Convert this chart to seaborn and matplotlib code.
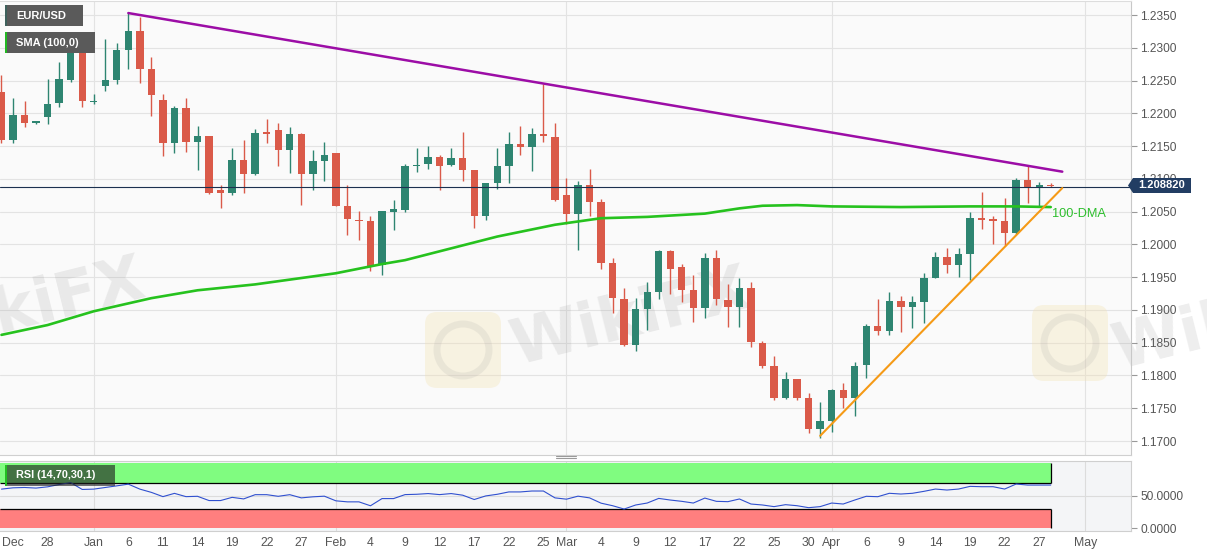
import numpy as np
import pandas as pd
import matplotlib
matplotlib.use('Agg')
import matplotlib.pyplot as plt
from matplotlib.patches import Rectangle, Polygon, FancyBboxPatch, Circle
import seaborn as sns

# weekday calendar of the chart (holidays keep a candle)
days = pd.bdate_range('2020-12-22', '2021-05-07')

# EUR/USD daily candles, 22 Dec 2020 .. 28 Apr 2021
opens = [1.2233, 1.2159, 1.2197, 1.2186, 1.2195, 1.2216, 1.2251, 1.2294, 1.2217, 1.2242,
         1.2251, 1.2296, 1.2326, 1.2268, 1.2220, 1.2155, 1.2208, 1.2157, 1.2165, 1.2083,
         1.2078, 1.2129, 1.2108, 1.2170, 1.2175, 1.2144, 1.2169, 1.2107, 1.2128, 1.2139,
         1.2058, 1.2038, 1.2035, 1.1968, 1.2049, 1.2053, 1.2119, 1.2122, 1.2134, 1.2121,
         1.2132, 1.2113, 1.2044, 1.2093, 1.2120, 1.2153, 1.2149, 1.2168, 1.2164, 1.2076,
         1.2046, 1.2091, 1.2064, 1.1971, 1.1916, 1.1846, 1.1902, 1.1928, 1.1990, 1.1966,
         1.1930, 1.1903, 1.1980, 1.1915, 1.1905, 1.1933, 1.1850, 1.1814, 1.1765, 1.1794,
         1.1765, 1.1718, 1.1731, 1.1778, 1.1765, 1.1816, 1.1875, 1.1868, 1.1914, 1.1905,
         1.1912, 1.1949, 1.1981, 1.1968, 1.1986, 1.2040, 1.2037, 1.2036, 1.2017, 1.2098,
         1.2087, 1.2090]
highs = [1.2258, 1.2223, 1.2219, 1.2189, 1.2252, 1.2278, 1.2303, 1.2310, 1.2230, 1.2313,
         1.2308, 1.2353, 1.2347, 1.2286, 1.2229, 1.2211, 1.2224, 1.2180, 1.2166, 1.2090,
         1.2147, 1.2160, 1.2176, 1.2192, 1.2185, 1.2179, 1.2170, 1.2144, 1.2157, 1.2140,
         1.2090, 1.2051, 1.2044, 1.2051, 1.2068, 1.2123, 1.2147, 1.2150, 1.2136, 1.2147,
         1.2172, 1.2114, 1.2094, 1.2147, 1.2171, 1.2181, 1.2177, 1.2244, 1.2186, 1.2102,
         1.2096, 1.2115, 1.2069, 1.1979, 1.1933, 1.1918, 1.1943, 1.1991, 1.1991, 1.1970,
         1.1953, 1.1987, 1.1991, 1.1940, 1.1948, 1.1942, 1.1853, 1.1829, 1.1806, 1.1795,
         1.1773, 1.1760, 1.1779, 1.1788, 1.1821, 1.1878, 1.1916, 1.1928, 1.1921, 1.1921,
         1.1957, 1.1989, 1.1995, 1.1995, 1.2049, 1.2080, 1.2044, 1.2071, 1.2102, 1.2120,
         1.2095, 1.2093]
lows = [1.2154, 1.2154, 1.2179, 1.2184, 1.2184, 1.2209, 1.2248, 1.2210, 1.2214, 1.2234,
        1.2244, 1.2267, 1.2247, 1.2196, 1.2135, 1.2139, 1.2141, 1.2113, 1.2077, 1.2055,
        1.2075, 1.2078, 1.2106, 1.2154, 1.2119, 1.2109, 1.2060, 1.2083, 1.2096, 1.2058,
        1.2014, 1.2007, 1.1960, 1.1953, 1.2022, 1.2050, 1.2110, 1.2115, 1.2083, 1.2119,
        1.2097, 1.2025, 1.2037, 1.2084, 1.2093, 1.2137, 1.2112, 1.2157, 1.2067, 1.2031,
        1.1992, 1.2044, 1.1963, 1.1895, 1.1845, 1.1837, 1.1870, 1.1916, 1.1925, 1.1912,
        1.1882, 1.1887, 1.1907, 1.1874, 1.1874, 1.1843, 1.1811, 1.1762, 1.1764, 1.1762,
        1.1712, 1.1704, 1.1714, 1.1750, 1.1738, 1.1796, 1.1862, 1.1862, 1.1867, 1.1872,
        1.1880, 1.1948, 1.1957, 1.1951, 1.1946, 1.2024, 1.2000, 1.1997, 1.2016, 1.2063,
        1.2058, 1.2087]
closes = [1.2159, 1.2197, 1.2186, 1.2188, 1.2215, 1.2252, 1.2294, 1.2219, 1.2218, 1.2251,
          1.2296, 1.2326, 1.2268, 1.2228, 1.2155, 1.2208, 1.2157, 1.2165, 1.2079, 1.2078,
          1.2129, 1.2108, 1.2170, 1.2169, 1.2144, 1.2169, 1.2107, 1.2127, 1.2136, 1.2059,
          1.2039, 1.2035, 1.1967, 1.2051, 1.2054, 1.2119, 1.2121, 1.2134, 1.2120, 1.2132,
          1.2113, 1.2044, 1.2093, 1.2119, 1.2153, 1.2149, 1.2168, 1.2165, 1.2068, 1.2046,
          1.2091, 1.2064, 1.1972, 1.1918, 1.1846, 1.1902, 1.1928, 1.1990, 1.1962, 1.1930,
          1.1903, 1.1980, 1.1916, 1.1905, 1.1933, 1.1851, 1.1814, 1.1765, 1.1794, 1.1765,
          1.1718, 1.1731, 1.1778, 1.1765, 1.1814, 1.1875, 1.1868, 1.1914, 1.1905, 1.1912,
          1.1949, 1.1981, 1.1968, 1.1985, 1.2040, 1.2037, 1.2036, 1.2017, 1.2098, 1.2088,
          1.2090, 1.2089]

# 100-day SMA, read at a few dates
sma_dates = ['2020-12-22', '2020-12-28', '2021-01-01', '2021-01-08', '2021-01-14', '2021-01-21',
             '2021-02-01', '2021-02-05', '2021-02-09', '2021-02-15', '2021-02-19', '2021-02-26',
             '2021-03-04', '2021-03-10', '2021-03-17', '2021-03-22', '2021-03-24', '2021-03-29',
             '2021-04-01', '2021-04-09', '2021-04-19', '2021-04-23', '2021-04-28']
sma_values = [1.1862, 1.1877, 1.1898, 1.1918, 1.1930, 1.1939, 1.1956, 1.1970, 1.1976, 1.1994,
              1.2012, 1.2030, 1.2040, 1.2042, 1.2047, 1.2055, 1.2059, 1.2060, 1.2058, 1.2057,
              1.2058, 1.2058, 1.2057]

# RSI(14), one value per candle
rsi_values = [60.0, 62.0, 62.5, 61.6, 63.5, 67.0, 70.0, 59.5, 60.0, 62.5,
              65.0, 67.6, 60.0, 55.0, 48.5, 53.5, 48.5, 49.0, 42.5, 42.5,
              47.4, 45.0, 51.5, 51.5, 49.0, 51.5, 46.6, 48.2, 49.2, 42.1,
              40.5, 40.5, 34.5, 45.5, 45.5, 51.6, 52.1, 53.2, 51.6, 53.2,
              50.7, 44.1, 49.6, 52.1, 55.7, 55.7, 57.1, 57.1, 46.6, 44.6,
              49.2, 46.6, 38.5, 34.6, 29.5, 35.7, 38.7, 45.8, 43.3, 41.3,
              38.7, 46.3, 41.3, 40.8, 44.9, 37.2, 35.7, 33.2, 36.2, 34.6,
              31.6, 33.2, 38.7, 37.2, 43.3, 49.0, 48.4, 53.6, 52.5, 53.6,
              56.6, 60.1, 58.6, 60.1, 64.2, 63.7, 63.7, 60.1, 67.8, 66.2,
              66.2, 66.2]

last_price = 1.208820

# hand-drawn trend lines
res_dates = ['2021-01-06', '2021-04-29']
res_prices = [1.2353, 1.2111]
sup_dates = ['2021-03-31', '2021-04-29']
sup_prices = [1.1708, 1.2086]

tick_dates = ['2020-12-23', '2020-12-28', '2021-01-01', '2021-01-06', '2021-01-11', '2021-01-14',
              '2021-01-19', '2021-01-22', '2021-01-27', '2021-02-01', '2021-02-04', '2021-02-09',
              '2021-02-12', '2021-02-17', '2021-02-22', '2021-02-25', '2021-03-01', '2021-03-04',
              '2021-03-09', '2021-03-12', '2021-03-17', '2021-03-22', '2021-03-25', '2021-03-30',
              '2021-04-01', '2021-04-06', '2021-04-09', '2021-04-14', '2021-04-19', '2021-04-22',
              '2021-04-27', '2021-05-03']
tick_labels = ['Dec', '28', 'Jan', '6', '11', '14', '19', '22', '27', 'Feb', '4', '9', '12', '17',
               '22', '25', 'Mar', '4', '9', '12', '17', '22', '25', '30', 'Apr', '6', '9', '14',
               '19', '22', '27', 'May']
month_dates = ['2021-01-01', '2021-02-01', '2021-03-01', '2021-04-01', '2021-05-03']
price_ticks = [1.1700, 1.1750, 1.1800, 1.1850, 1.1900, 1.1950, 1.2000,
               1.2050, 1.2100, 1.2150, 1.2200, 1.2250, 1.2300, 1.2350]


def pos_of(dates):
    return days.get_indexer(pd.to_datetime(dates))


df = pd.DataFrame({'date': days[:len(opens)], 'open': opens, 'high': highs,
                   'low': lows, 'close': closes, 'rsi': rsi_values})
df['pos'] = np.arange(len(df))

GREEN = '#2E8571'
RED = '#DA5A49'

sns.set_theme(style='white')
plt.rcParams['font.family'] = ['Liberation Sans', 'DejaVu Sans']

W, H = 1207, 555
fig = plt.figure(figsize=(W / 100, H / 100), dpi=100)
fig.patch.set_facecolor('white')

xlim = (-0.13, 97.96)
ax = fig.add_axes([0, 1 - 455 / H, 1131 / W, 454 / H])
rs = fig.add_axes([0, 1 - 531 / H, 1131 / W, 70.5 / H])

# ---- main price panel ----
ax.set_facecolor('#FAFAFA')
ax.set_xlim(*xlim)
ax.set_ylim(1.16787, 1.23714)
for p in price_ticks:
    ax.axhline(p, color='#E3E3E3', lw=0.8, zorder=0.5)
for m in pos_of(month_dates):
    ax.axvline(m, color='#E3E3E3', lw=0.8, zorder=0.5)

# faint watermarks
wm = dict(transform=fig.transFigure, color='#8A8A8A', alpha=0.15, fontsize=45,
          fontweight='bold', rotation=14, ha='center', va='center', zorder=0.8,
          family='DejaVu Sans')
ax.text(630 / W, 1 - 318 / H, 'WikiFX', **wm)
ax.text(25 / W, 1 - 308 / H, 'WikiFX', **wm)
ax.text(1232 / W, 1 - 322 / H, 'WikiFX', **wm)
for cx, cy in [(463, 350), (1070, 343)]:
    ax.add_patch(FancyBboxPatch(((cx - 38) / 100, (H - cy - 38) / 100), 0.76, 0.76,
                                boxstyle='round,pad=0,rounding_size=0.12',
                                transform=fig.dpi_scale_trans, facecolor='#F3E2B0',
                                edgecolor='none', alpha=0.33, zorder=0.8))
    ax.add_patch(Circle((cx / 100, (H - cy) / 100), 0.26, transform=fig.dpi_scale_trans,
                        facecolor='none', edgecolor='#9A9A9A', lw=5, alpha=0.14, zorder=0.85))

up = df['close'] >= df['open']
colors = np.where(up, GREEN, RED)
ax.vlines(df['pos'], df['low'], df['high'], colors=colors, lw=1.0, zorder=3)
body_low = np.minimum(df['open'], df['close'])
body_h = np.maximum((df['close'] - df['open']).abs(), 0.00022)
ax.bar(df['pos'], body_h, bottom=body_low, width=0.64, color=colors, linewidth=0, zorder=3.1)

sns.lineplot(x=pos_of(sma_dates), y=sma_values, ax=ax, color='#26C21E', lw=1.9, zorder=4)
sns.lineplot(x=pos_of(res_dates), y=res_prices, ax=ax, color='#9C0DA6', lw=1.8, zorder=4.2)
sns.lineplot(x=pos_of(sup_dates), y=sup_prices, ax=ax, color='#F59A16', lw=1.5, zorder=4.2)
ax.axhline(last_price, color='#1C3150', lw=0.8, zorder=4.1)
ax.text(pos_of(['2021-04-28'])[0] + 0.1, 1.2047, '100-DMA', color='#2DBE2D', fontsize=9.2,
        ha='left', va='center', zorder=5)

ax.yaxis.tick_right()
ax.set_yticks(price_ticks, labels=[f'{p:.4f}' for p in price_ticks])
ax.tick_params(axis='y', right=True, length=4, width=0.8, color='#999999',
               labelcolor='#555555', labelsize=8.6, pad=2.5)
ax.set_xticks([])
ax.set_xlabel('')
ax.set_ylabel('')
ax.spines['left'].set_visible(False)
ax.spines['top'].set_color('#DDDDDD')
ax.spines['bottom'].set_color('#D0D0D0')
ax.spines['right'].set_color('#C8C8C8')
for s in ax.spines.values():
    s.set_linewidth(0.8)

# ---- RSI panel ----
rs.set_facecolor('#F4F5F7')
rs.set_xlim(*xlim)
rs.set_ylim(-4.1, 103.8)
rs.axhline(50, color='#DCDCDC', lw=0.8, zorder=0.5)
for m in pos_of(month_dates):
    rs.axvline(m, color='#DCDCDC', lw=0.8, zorder=0.5)
last_pos = df['pos'].iloc[-1]
rs.fill_between([xlim[0], last_pos], 70, 100, color='#80FC80', lw=0, zorder=1)
rs.fill_between([xlim[0], last_pos], 0, 30, color='#FF7F7F', lw=0, zorder=1)
rs.hlines([70, 30], xlim[0], last_pos, color='black', lw=0.9, zorder=2)
rs.vlines([last_pos, last_pos], [70, 0], [100, 30], color='black', lw=0.9, zorder=2)
sns.lineplot(data=df, x='pos', y='rsi', ax=rs, color='#3050CF', lw=0.8, zorder=3)

rs.yaxis.tick_right()
rs.set_yticks([0, 50], labels=['0.0000', '50.0000'])
rs.tick_params(axis='y', right=True, length=4, width=0.8, color='#999999',
               labelcolor='#555555', labelsize=8.6, pad=2.5)
rs.set_xticks(pos_of(tick_dates), labels=tick_labels)
rs.tick_params(axis='x', bottom=False, length=0, labelcolor='#555555', labelsize=8.8, pad=4.5)
rs.set_xlabel('')
rs.set_ylabel('')
rs.spines['left'].set_visible(False)
for side in ['top', 'bottom', 'right']:
    rs.spines[side].set_color('#CFCFCF')
    rs.spines[side].set_linewidth(0.8)


# ---- overlay labels in pixel coordinates ----
def px_rect(x0, y0, x1, y1, **kw):
    fig.add_artist(Rectangle((x0 / W, 1 - y1 / H), (x1 - x0) / W, (y1 - y0) / H,
                             transform=fig.transFigure, **kw))


px_rect(5, 5, 83, 26, facecolor='#5A5A5A', edgecolor='none')
px_rect(5, 5, 7, 26, facecolor='#3E615C', edgecolor='none')
fig.text(16 / W, 1 - 16 / H, 'EUR/USD', color='white', fontsize=8, fontweight='bold', va='center')

px_rect(5, 32, 95, 53, facecolor='#5A5A5A', edgecolor='none')
px_rect(5, 32, 7, 53, facecolor='#22B822', edgecolor='none')
fig.text(16 / W, 1 - 43 / H, 'SMA (100,0)', color='white', fontsize=8, fontweight='bold',
         va='center')

px_rect(5, 465, 115, 486, facecolor='#1E1E1E', edgecolor='none', alpha=0.62)
px_rect(5, 465, 7, 486, facecolor='#22C022', edgecolor='none')
fig.text(16 / W, 1 - 475.5 / H, 'RSI (14,70,30,1)', color='white', fontsize=7.8,
         fontweight='bold', va='center')

# current price tag
fig.add_artist(Polygon([(1128 / W, 1 - 185.5 / H), (1133 / W, 1 - 178 / H),
                        (1191 / W, 1 - 178 / H), (1191 / W, 1 - 193 / H),
                        (1133 / W, 1 - 193 / H)], closed=True, transform=fig.transFigure,
                       facecolor='#223D63', edgecolor='none'))
fig.text(1162 / W, 1 - 185.5 / H, f'{last_price:.6f}', color='white', fontsize=8,
         fontweight='bold', ha='center', va='center')

# panel resize handle
for yy in (455.5, 458):
    fig.add_artist(plt.Line2D([556 / W, 576 / W], [1 - yy / H, 1 - yy / H],
                              transform=fig.transFigure, color='#9A9A9A', lw=0.8))

fig.savefig('out.png', dpi=100, facecolor='white')
